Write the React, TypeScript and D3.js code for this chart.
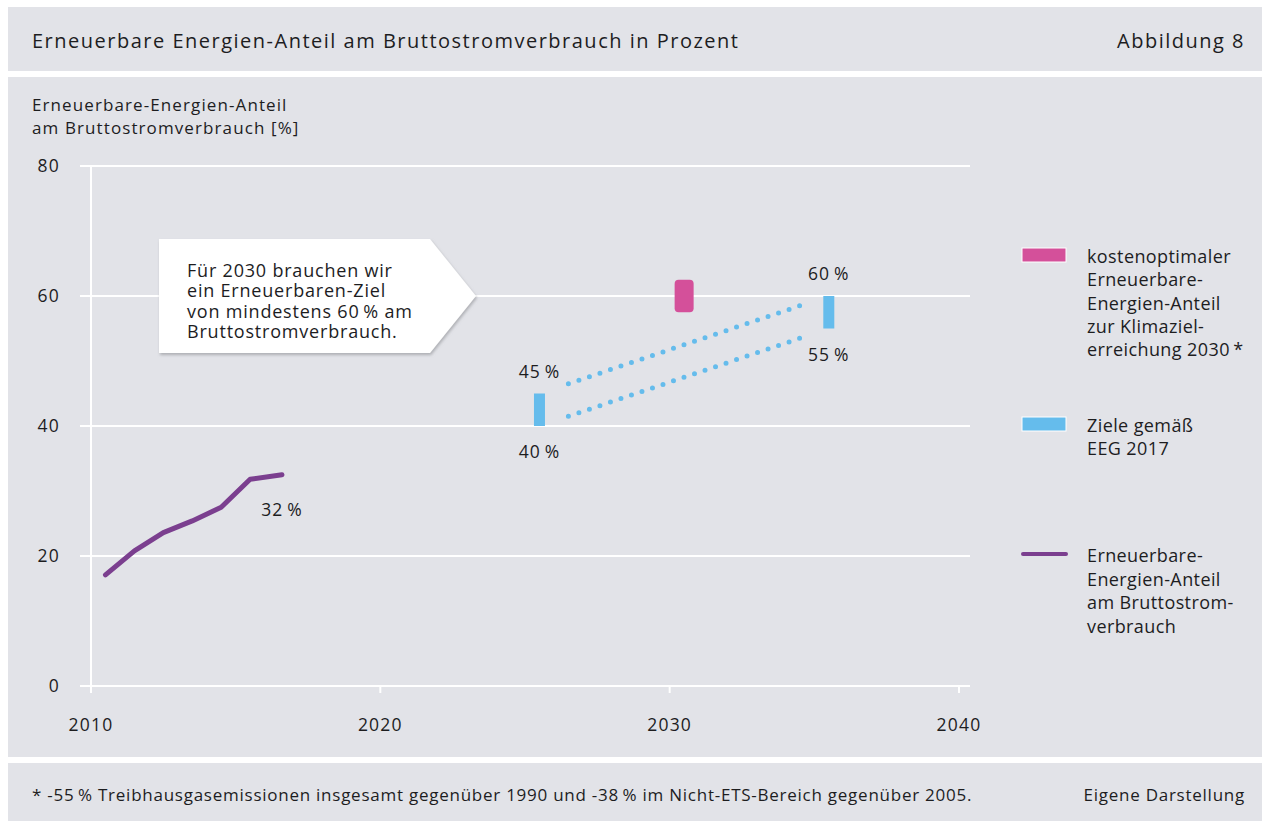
import React, { useEffect, useRef } from 'react';
import * as d3 from 'd3';

// Erneuerbare-Energien-Anteil am Bruttostromverbrauch (Ist-Werte)
const histYears = [2010.5, 2011.5, 2012.5, 2013.5, 2014.5, 2015.5, 2016.6];
const histShare = [17.1, 20.8, 23.6, 25.4, 27.5, 31.8, 32.5];
const histLabel = 32;

// Ziele gemäß EEG 2017 (Korridore)
const eegYears = [2025.5, 2035.5];
const eegLow = [40, 55];
const eegHigh = [45, 60];

// gepunktete Verbindungslinien
const connYears = [2026.5, 2034.5];
const connUpper = [46.5, 58.5];
const connLower = [41.5, 53.5];

// kostenoptimaler Anteil 2030
const optYear = 2030.5;
const optRange = [57.5, 62.5];

const yTicks = [0, 20, 40, 60, 80];
const xTicks = [2010, 2020, 2030, 2040];

const TS = '\u2009';

const calloutLines = [
  'Für 2030 brauchen wir',
  'ein Erneuerbaren-Ziel',
  `von mindestens 60${TS}% am`,
  'Bruttostromverbrauch.',
];

const legendItems = [
  { kind: 'rect', color: '#d4509a', lines: ['kostenoptimaler', 'Erneuerbare-', 'Energien-Anteil', 'zur Klimaziel-', `erreichung 2030${TS}*`] },
  { kind: 'rect', color: '#65bcec', lines: ['Ziele gemäß', 'EEG 2017'] },
  { kind: 'line', color: '#7b3f8f', lines: ['Erneuerbare-', 'Energien-Anteil', 'am Bruttostrom-', 'verbrauch'] },
];

const W = 1262;
const H = 821;
const BG = '#e2e3e8';
const INK = '#1d1d1f';
const FONT = "'Open Sans', sans-serif";

const App = () => {
  const ref = useRef<SVGSVGElement>(null);

  useEffect(() => {
    const svg = d3.select(ref.current);
    svg.selectAll('*').remove();

    const defs = svg.append('defs');
    const f = defs.append('filter').attr('id', 'shadow').attr('x', '-10%').attr('y', '-10%').attr('width', '130%').attr('height', '140%');
    f.append('feDropShadow').attr('dx', 1).attr('dy', 2).attr('stdDeviation', 1.5).attr('flood-color', '#8a8b90').attr('flood-opacity', 0.6);

    // panels
    svg.append('rect').attr('width', W).attr('height', H).attr('fill', '#fff');
    svg.append('rect').attr('x', 8).attr('y', 7).attr('width', W - 8).attr('height', 64).attr('fill', BG);
    svg.append('rect').attr('x', 8).attr('y', 77).attr('width', W - 8).attr('height', 680).attr('fill', BG);
    svg.append('rect').attr('x', 8).attr('y', 763).attr('width', W - 8).attr('height', 58).attr('fill', BG);

    const txt = (x: number, y: number, s: string, size: number, ls: number, anchor = 'start') =>
      svg.append('text').attr('x', x).attr('y', y).attr('text-anchor', anchor)
        .attr('font-family', FONT).attr('font-size', size).attr('letter-spacing', ls)
        .attr('fill', INK).text(s);

    txt(32, 48, 'Erneuerbare Energien-Anteil am Bruttostromverbrauch in Prozent', 20, 1.5);
    txt(1245, 48, 'Abbildung 8', 20, 1.5, 'end');
    txt(32, 111, 'Erneuerbare-Energien-Anteil', 17, 1.1);
    txt(32, 134, 'am Bruttostromverbrauch [%]', 17, 1.1);
    txt(32, 801, `* -55${TS}% Treibhausgasemissionen insgesamt gegenüber 1990 und -38${TS}% im Nicht-ETS-Bereich gegenüber 2005.`, 17, 0.75);
    txt(1245, 801, 'Eigene Darstellung', 17, 0.75, 'end');

    const x = d3.scaleLinear().domain([2010, 2040]).range([91, 959]);
    const y = d3.scaleLinear().domain([0, 80]).range([686, 166]);

    // grid
    const g = svg.append('g');
    g.selectAll('line.grid').data(yTicks).join('line')
      .attr('x1', 80).attr('x2', 970)
      .attr('y1', (d) => y(d)).attr('y2', (d) => y(d))
      .attr('stroke', '#fff').attr('stroke-width', 2);
    g.append('line').attr('x1', x(2010)).attr('x2', x(2010)).attr('y1', y(80)).attr('y2', y(0) + 7)
      .attr('stroke', '#fff').attr('stroke-width', 2);
    g.selectAll('line.xt').data(xTicks).join('line')
      .attr('x1', (d) => x(d)).attr('x2', (d) => x(d))
      .attr('y1', y(0)).attr('y2', y(0) + 7)
      .attr('stroke', '#fff').attr('stroke-width', 2);

    g.selectAll('text.yl').data(yTicks).join('text')
      .attr('x', 60).attr('y', (d) => y(d) + 6).attr('text-anchor', 'end')
      .attr('font-family', FONT).attr('font-size', 17.5).attr('letter-spacing', 1.2).attr('fill', INK)
      .text((d) => d);
    g.selectAll('text.xl').data(xTicks).join('text')
      .attr('x', (d) => x(d)).attr('y', 731).attr('text-anchor', 'middle')
      .attr('font-family', FONT).attr('font-size', 17.5).attr('letter-spacing', 1.2).attr('fill', INK)
      .text((d) => d);

    // historic line
    const line = d3.line<number>().x((_, i) => x(histYears[i])).y((d) => y(d));
    svg.append('path').attr('d', line(histShare)).attr('fill', 'none')
      .attr('stroke', '#7b3f8f').attr('stroke-width', 5).attr('stroke-linecap', 'round').attr('stroke-linejoin', 'round');
    txt(x(histYears[histYears.length - 1]), 516, `${histLabel}${TS}%`, 17.5, 1, 'middle');

    // connector dots
    [connUpper, connLower].forEach((vals) => {
      const p = svg.append('path')
        .attr('d', d3.line<number>().x((_, i) => x(connYears[i])).y((d) => y(d))(vals))
        .attr('fill', 'none').attr('stroke', '#65bcec').attr('stroke-width', 5).attr('stroke-linecap', 'round');
      const len = (p.node() as SVGPathElement).getTotalLength();
      p.attr('stroke-dasharray', `0 ${(len - 0.3) / 22}`);
    });

    // EEG bars
    eegYears.forEach((yr, i) => {
      svg.append('rect').attr('x', x(yr) - 5.5).attr('width', 11)
        .attr('y', y(eegHigh[i])).attr('height', y(eegLow[i]) - y(eegHigh[i]))
        .attr('fill', '#65bcec');
      txt(x(yr), y(eegHigh[i]) - 16, `${eegHigh[i]}${TS}%`, 17.5, 1, 'middle');
      txt(x(yr), y(eegLow[i]) + 32, `${eegLow[i]}${TS}%`, 17.5, 1, 'middle');
    });

    // optimal 2030
    svg.append('rect').attr('x', x(optYear) - 9.5).attr('width', 19)
      .attr('y', y(optRange[1])).attr('height', y(optRange[0]) - y(optRange[1]))
      .attr('rx', 4).attr('fill', '#d4509a');

    // callout
    const cy = y(60);
    svg.append('polygon')
      .attr('points', `159,239 430,239 476,${cy} 430,353 159,353`)
      .attr('fill', '#fff').attr('filter', 'url(#shadow)');
    calloutLines.forEach((s, i) => txt(187, 277 + i * 20.3, s, 18, 0.8));

    // legend
    const lyOffsets = [248, 417, 554];
    legendItems.forEach((it, k) => {
      const ly = lyOffsets[k];
      if (it.kind === 'rect') {
        svg.append('rect').attr('x', 1022).attr('y', ly).attr('width', 44).attr('height', 14)
          .attr('fill', it.color).attr('stroke', '#fff').attr('stroke-width', 1);
        it.lines.forEach((s, i) => txt(1087, ly + 15 + i * 23.3, s, 18, 0.4));
      } else {
        svg.append('line').attr('x1', 1023).attr('x2', 1066).attr('y1', ly).attr('y2', ly)
          .attr('stroke', it.color).attr('stroke-width', 4).attr('stroke-linecap', 'round');
        it.lines.forEach((s, i) => txt(1087, ly + 8 + i * 23.5, s, 18, 0.4));
      }
    });
  }, []);

  return (
    <svg ref={ref} width={W} height={H} style={{ position: 'absolute', left: 0, top: 0 }} />
  );
};

export default App;
